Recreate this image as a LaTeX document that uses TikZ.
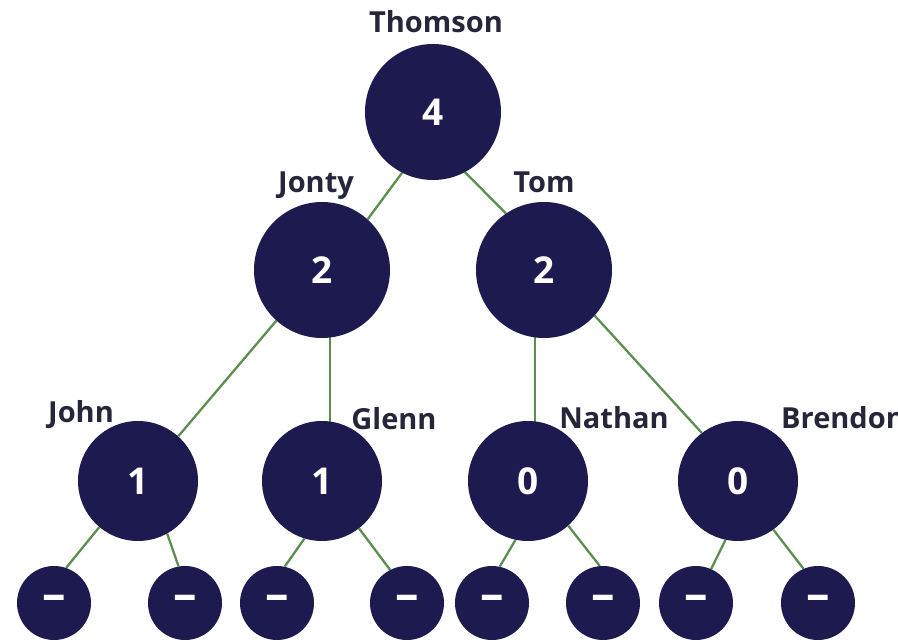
\documentclass[tikz,border=0pt]{standalone}
\usepackage{fontspec}
\setmainfont{Open Sans}
\usetikzlibrary{backgrounds}
\definecolor{navy}{HTML}{1C1A4E}
\definecolor{labelc}{HTML}{26263A}
\definecolor{edgec}{HTML}{5B8F50}
\begin{document}
\begin{tikzpicture}[x=1pt,y=-1pt,
  big/.style={circle,fill=navy,minimum size=136pt,inner sep=0pt,text=white,font=\fontsize{37}{37}\selectfont\bfseries},
  mid/.style={big,minimum size=120pt},
  leaf/.style={big,minimum size=74pt,font=\fontsize{47}{47}\selectfont\bfseries},
  lbl/.style={text=labelc,font=\fontsize{29}{29}\selectfont\bfseries,inner sep=0pt,anchor=base},
  edge/.style={draw=edgec,line width=2.3pt}]
\useasboundingbox (0,0) rectangle (898,644);
% main nodes
\node[big] (Thomson) at (433,112) {4};
\node[big] (Jonty) at (322,270) {2};
\node[big] (Tom) at (544,270) {2};
\node[mid] (John) at (138,481) {1};
\node[mid] (Glenn) at (322,481) {1};
\node[mid] (Nathan) at (528,481) {0};
\node[mid] (Brendon) at (738,481) {0};
% leaves
\node[leaf] (l1) at (54,603) {–};
\node[leaf] (l2) at (185,603) {–};
\node[leaf] (l3) at (277,603) {–};
\node[leaf] (l4) at (407,603) {–};
\node[leaf] (l5) at (492,603) {–};
\node[leaf] (l6) at (603,603) {–};
\node[leaf] (l7) at (696,603) {–};
\node[leaf] (l8) at (818,603) {–};
% labels
\node[lbl] (tThomson) at (436,33) {Thomson};
\node[lbl] (tJonty) at (316,193) {Jonty};
\node[lbl] (tTom) at (544,193) {Tom};
\node[lbl] (tJohn) at (81,423) {John};
\node[lbl] (tGlenn) at (394,430) {Glenn};
\node[lbl] (tNathan) at (614,429) {Nathan};
\node[lbl,anchor=base west] (tBrendon) at (781,429) {Brendon};
% edges
\begin{scope}[on background layer]
\draw[edge] (Thomson.243) -- (Jonty.48);
\draw[edge] (Thomson.298) -- (Tom.124);
\draw[edge] (Jonty.228) -- (John.48);
\draw[edge] ([xshift=8pt]Glenn.center) -- ([xshift=8pt]Glenn.center |- Jonty.center);
\draw[edge] ([xshift=7pt]Nathan.center) -- ([xshift=7pt]Nathan.center |- Tom.center);
\draw[edge] (Tom.318) -- (Brendon.127);
\draw[edge] (John.230) -- (l1.71);
\draw[edge] (John.299) -- (l2.100);
\draw[edge] (Glenn.253) -- (l3.78);
\draw[edge] (Glenn.308) -- (l4.117);
\draw[edge] (Nathan.258) -- (l5.78);
\draw[edge] (Nathan.312) -- (l6.95);
\draw[edge] (Brendon.258) -- (l7.66);
\draw[edge] (Brendon.306) -- (l8.113);
\end{scope}
\end{tikzpicture}
\end{document}
